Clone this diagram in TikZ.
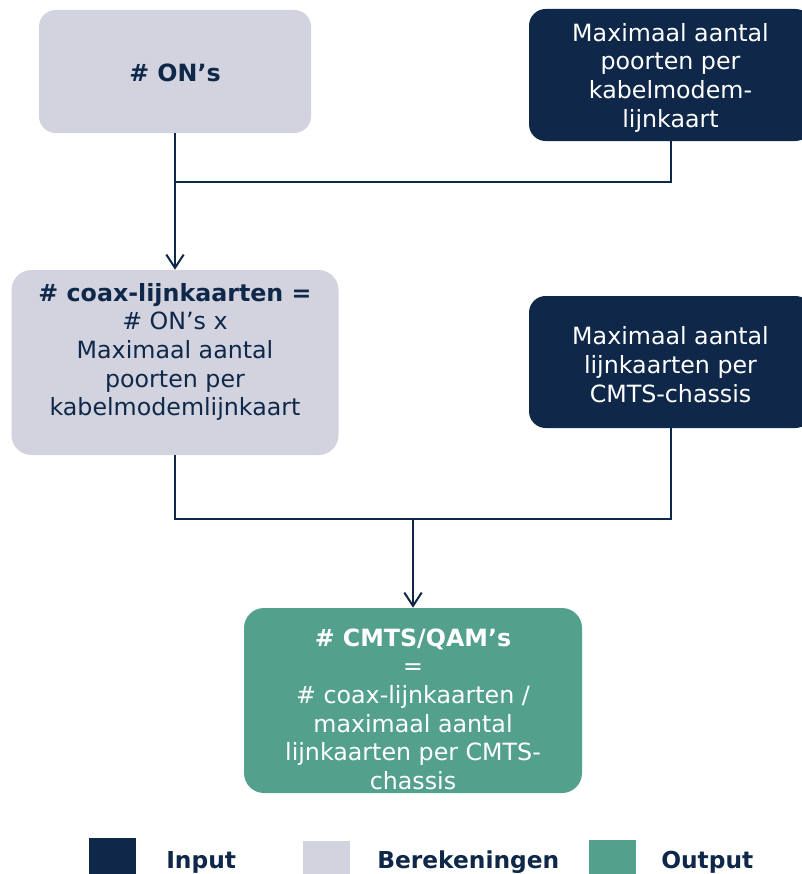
\documentclass[tikz,border=0pt]{standalone}
\usepackage{fontspec}
\setmainfont{DejaVu Sans}
\usetikzlibrary{arrows.meta}
\definecolor{navy}{HTML}{0F284A}
\definecolor{calc}{HTML}{D2D3DE}
\definecolor{outc}{HTML}{53A18D}
\begin{document}
\begin{tikzpicture}[x=0.75pt,y=-0.75pt,
  box/.style={rounded corners=12.5pt, inner sep=0pt},
  bigbox/.style={rounded corners=15pt, inner sep=0pt},
  txt/.style={font=\fontsize{17.8}{21.5}\selectfont, align=center, inner sep=0pt},
  legtxt/.style={font=\fontsize{17.5}{21}\selectfont\bfseries, text=navy, inner sep=0pt},
  legsq/.style={minimum size=35.25pt, inner sep=0pt, anchor=north west},
  conn/.style={draw=navy, line width=1.5pt},
  arr/.style={conn, -{Straight Barb[length=10pt,width=13pt]}}]
\useasboundingbox (0,0) rectangle (801,874);

% boxes
\node[box, fill=calc, minimum width=204pt, minimum height=92.25pt] (on) at (175,71.5) {};
\node[box, fill=navy, minimum width=212.25pt, minimum height=99pt] (in1) at (670.5,75) {};
\node[bigbox, fill=calc, minimum width=245.25pt, minimum height=138.75pt] (coax) at (175,362.5) {};
\node[box, fill=navy, minimum width=212.25pt, minimum height=99pt] (in2) at (670.5,362) {};
\node[bigbox, fill=outc, minimum width=253.5pt, minimum height=138.75pt] (out) at (413,700.5) {};

% texts
\node[txt, text=navy] (onT) at ([yshift=-0.8pt]on.center) {\bfseries \# ON’s};
\node[txt, text=white] (in1T) at ([yshift=-2pt]in1.center) {Maximaal aantal\\poorten per\\kabelmodem-\\lijnkaart};
\node[txt, text=navy] (coaxT) at ([yshift=7.8pt]coax.center) {\textbf{\# coax-lijnkaarten =}\\\# ON’s x\\Maximaal aantal\\poorten per\\kabelmodemlijnkaart};
\node[txt, text=white] (in2T) at ([yshift=-1.9pt]in2.center) {Maximaal aantal\\lijnkaarten per\\CMTS-chassis};
\node[txt, text=white] (outT) at ([yshift=-6.4pt]out.center) {\textbf{\# CMTS/QAM’s}\\=\\\# coax-lijnkaarten /\\maximaal aantal\\lijnkaarten per CMTS-\\chassis};

% connectors
\coordinate (j1) at (175,182);
\draw[conn] (in1.south) |- (j1);
\draw[arr] (on.south) -- (coax.north);
\coordinate (j2) at (413,519);
\draw[conn] (coax.south) |- (in2.south |- j2) -- (in2.south);
\draw[arr] (j2) -- (out.north);

% legend
\node[legsq, fill=navy] (lin) at (89,838) {};
\node[legsq, fill=calc] (lcalc) at (303,841) {};
\node[legsq, fill=outc] (lout) at (589,840) {};
\node[legtxt, anchor=base west] (linT) at (166,868) {Input};
\node[legtxt, anchor=base west] (lcalcT) at (377,868) {Berekeningen};
\node[legtxt, anchor=base west] (loutT) at (661,868) {Output};
\end{tikzpicture}
\end{document}
